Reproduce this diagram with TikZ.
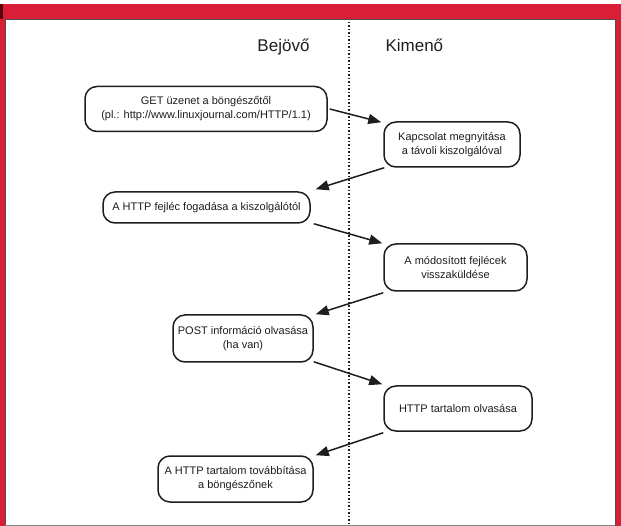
\documentclass[tikz,border=0pt]{standalone}
\usepackage{fontspec}
\setmainfont{Liberation Sans}
\usetikzlibrary{arrows.meta,calc}
\definecolor{framered}{RGB}{217,30,56}
\definecolor{darkred}{RGB}{90,5,10}
\definecolor{framegray}{RGB}{80,80,80}
\definecolor{ink}{RGB}{30,30,30}
\tikzset{
  stepbox/.style={draw=ink, line width=1.5pt, rounded corners=12pt, align=center,
    font=\fontsize{11}{14}\selectfont, text=ink, inner sep=0pt},
  arr/.style={draw=ink, line width=1.5pt, -{Triangle[length=13pt,width=10pt]}},
  header/.style={font=\fontsize{17}{19}\selectfont, text=ink},
}
\begin{document}
\begin{tikzpicture}[x=1pt,y=-1pt]
\useasboundingbox (0,0) rectangle (621,526);
\fill[white] (0,0) rectangle (621,526);
% frame
\fill[framered] (0,4) rectangle (621,19);
\fill[framered] (0,4) rectangle (4.5,526);
\fill[framered] (616,4) rectangle (621,526);
\fill[darkred] (0,4) rectangle (3,19);
\draw[framegray, line width=1.2pt] (5.2,526) -- (5.2,19.6) -- (615.4,19.6) -- (615.4,526);
\draw[framegray!70, line width=1pt] (5,525.5) -- (615.4,525.5);
% divider
\coordinate (dtop) at (349,22);
\coordinate (dbot) at (349,523);
\draw[ink, line width=1.6pt, dash pattern=on 1.5pt off 2pt] (dtop) -- (dbot);
% headers
\node[header, anchor=base east] (bej) at (313,52) {Bejövő};
\node[header, anchor=base west] (kim) at (382,52) {Kimenő};
% boxes
\node[stepbox, minimum width=242pt, minimum height=45pt] (get) at (206,109)
  {GET üzenet a böngészőtől\\(pl.: http://www.linuxjournal.com/HTTP/1.1)};
\node[stepbox, minimum width=136pt, minimum height=45pt] (kap) at (452,144.5)
  {Kapcsolat megnyitása\\a távoli kiszolgálóval};
\node[stepbox, minimum width=207pt, minimum height=31pt] (fej) at (206.5,207.5)
  {A HTTP fejléc fogadása a kiszolgálótól};
\node[stepbox, minimum width=143pt, minimum height=47pt] (mod) at (455.5,267.5)
  {A módosított fejlécek\\visszaküldése};
\node[stepbox, minimum width=140pt, minimum height=47pt] (post) at (243,338.5)
  {POST információ olvasása\\(ha van)};
\node[stepbox, minimum width=148pt, minimum height=45pt] (olv) at (458,408.5)
  {HTTP tartalom olvasása};
\node[stepbox, minimum width=155pt, minimum height=46pt] (tov) at (235.5,479)
  {A HTTP tartalom továbbítása\\a böngészőnek};
% arrows
\draw[arr] ([shift={(2,0)}]get.east) -- ([shift={(-2,1)}]kap.north west);
\draw[arr] ([shift={(1,0)}]kap.south west) -- ([shift={(5,-2)}]fej.north east);
\draw[arr] ([shift={(3,0)}]fej.south east) -- ([shift={(-1,0)}]mod.north west);
\draw[arr] ([shift={(0,1)}]mod.south west) -- ([shift={(2,0)}]post.north east);
\draw[arr] ([shift={(0,-1)}]post.south east) -- ([shift={(-1,-1)}]olv.north west);
\draw[arr] ([shift={(0,1)}]olv.south west) -- ([shift={(2,0)}]tov.north east);
\end{tikzpicture}
\end{document}
